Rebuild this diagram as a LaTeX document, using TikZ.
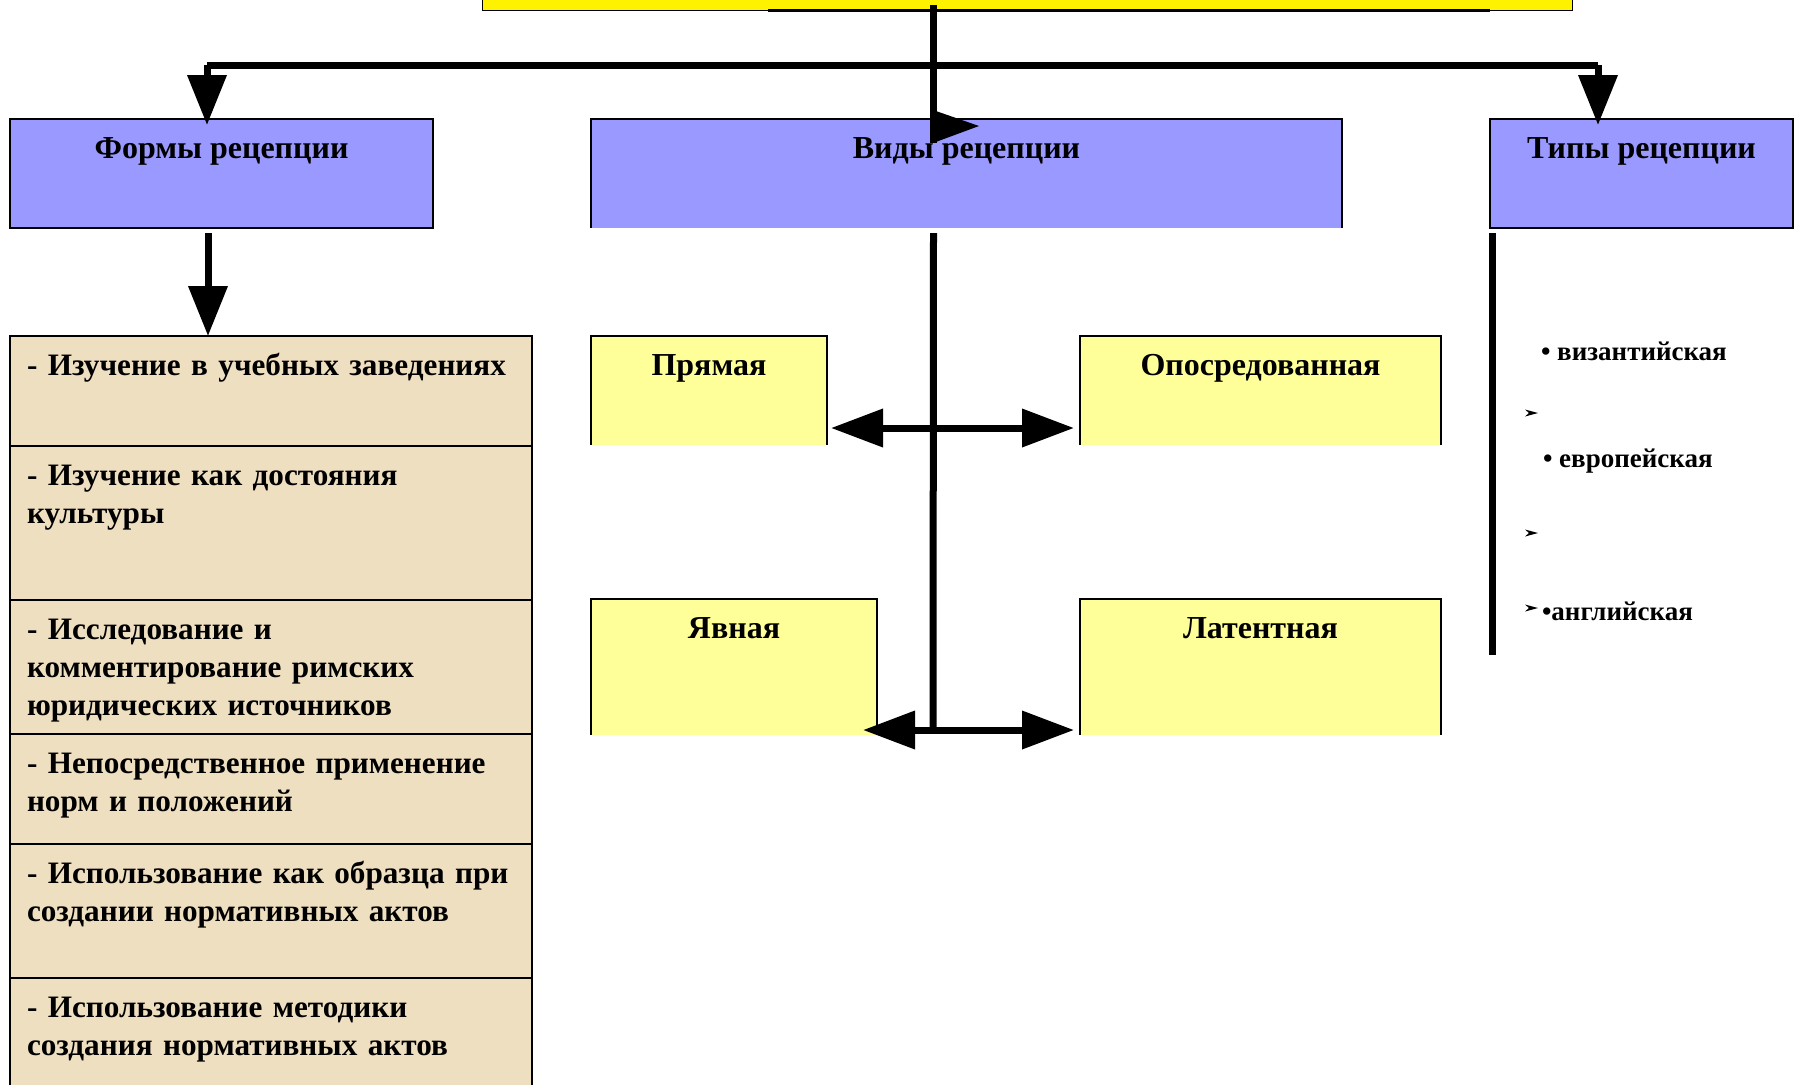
\documentclass[tikz,border=0pt]{standalone}
\usepackage{fontspec}
\setmainfont{Liberation Serif}
\usetikzlibrary{arrows.meta,positioning}
\definecolor{headblue}{HTML}{9999FF}
\definecolor{paleyellow}{HTML}{FFFF99}
\definecolor{beige}{HTML}{EEDFC1}

\begin{document}
\begin{tikzpicture}[x=0.5pt,y=-0.5pt,outer sep=0pt,
  thick line/.style={line width=3.5pt},
  big tip/.style={-{Triangle[length=25pt,width=19pt]}},
  both tips/.style={{Triangle[length=26pt,width=18.5pt]}-{Triangle[length=26pt,width=18.5pt]}},
  head node/.style={fill=headblue,anchor=north west,inner sep=0pt,
    text height=19.5pt,text depth=35pt,font=\fontsize{16}{19}\selectfont\bfseries},
  kind node/.style={fill=paleyellow,anchor=north west,inner sep=0pt,
    text height=19.5pt,font=\fontsize{16}{19}\selectfont\bfseries},
  list node/.style={draw,line width=1pt,fill=beige,anchor=north west,inner xsep=8.5pt,inner ysep=0pt,
    text width=244pt,align=left,text height=19.5pt,font=\fontsize{15.6}{19}\selectfont\bfseries},
  type node/.style={anchor=base west,inner sep=0pt,font=\fontsize{13.5}{16}\selectfont\bfseries}]

\useasboundingbox (0,0) rectangle (1800,1084);
\clip (0,0) rectangle (1800,1084);

\node[fill=yellow,draw,line width=0.5pt,anchor=south west,minimum width=545pt,minimum height=40pt] (recep) at (482,10) {};
\draw[line width=1.5pt] (768,10) -- (1490,10);

\node[head node,draw,line width=1.2pt,minimum width=211.5pt] (formy) at (10,119) {Формы рецепции};
\node[head node,minimum width=375.5pt,right=79pt of formy] (vidy) {Виды рецепции};
\node[head node,draw,line width=1.2pt,minimum width=151.5pt,right=74pt of vidy] (tipy) {Типы рецепции};
\draw[line width=1.2pt] (vidy.south west) |- (vidy.north east) -- (vidy.south east);

\coordinate (busL) at (207,65);
\coordinate (busR) at (1598,65);
\coordinate (hub) at (933,65);
\draw[thick line] (busL) -- (busR);
\draw[thick line,big tip,shorten >=-3pt] (busL) -- (busL |- formy.north);
\draw[thick line,big tip,shorten >=-3pt] (busR) -- (busR |- tipy.north);
\draw[thick line,shorten <=-2.5pt] (hub |- recep.south) -- (933,143);
\fill (933,110) -- (979,126) -- (933,143) -- cycle;

\node[list node,text depth=35.5pt] (f1) at (10,336) {- Изучение в учебных заведениях};
\node[list node,text depth=57.5pt,below=0pt of f1] (f2) {- Изучение как достояния\\культуры};
\node[list node,text depth=47.5pt,below=0pt of f2] (f3) {- Исследование и\\комментирование римских\\юридических источников};
\node[list node,text depth=35.5pt,below=0pt of f3] (f4) {- Непосредственное применение\\норм и положений};
\node[list node,text depth=47.5pt,below=0pt of f4] (f5) {- Использование как образца при\\создании нормативных актов};
\node[list node,text depth=41.5pt,below=0pt of f5] (f6) {- Использование методики\\создания нормативных актов};

\draw[thick line,big tip] ([xshift=-6.75pt,yshift=-2.5pt]formy.south) coordinate (fdown) -- (fdown |- f1.north);

\node[kind node,minimum width=118pt,text depth=35pt] (pryam) at (591,336) {Прямая};
\node[kind node,minimum width=180.5pt,text depth=35pt,right=126.5pt of pryam] (oposr) {Опосредованная};
\node[kind node,minimum width=143pt,text depth=48.5pt,below=77pt of pryam.south west,anchor=north west] (yavn) {Явная};
\node[kind node,minimum width=180.5pt,text depth=48.5pt,below=77pt of oposr] (latent) {Латентная};
\foreach \n in {pryam,oposr,yavn,latent}
  \draw[line width=1pt] (\n.south west) |- (\n.north east) -- (\n.south east);

\coordinate (vjoin) at (933,730);
\draw[thick line] ([xshift=-16.5pt,yshift=-2.5pt]vidy.south) -- (vjoin);
\draw[thick line,both tips] ([xshift=2pt,yshift=8.5pt]pryam.south east) -- ([xshift=-3pt,yshift=8.5pt]oposr.south west);
\draw[thick line,both tips] ([xshift=-7pt,yshift=2.5pt]yavn.south east) -- ([xshift=-3pt,yshift=2.5pt]latent.south west);

\coordinate (tend) at (1492,655);
\draw[thick line] ([xshift=1pt,yshift=-2.5pt]tipy.south west) -- (tend);
\node[type node] (t1) at (1541,360) {• византийская};
\node[type node] (t2) at (1543,467) {• европейская};
\node[type node] (t3) at (1542,620) {•английская};
\foreach \y in {413,533,608}
  \fill (1525,\y-3.5) -- (1529,\y) -- (1525,\y+3.5) -- (1538,\y) -- cycle;

\end{tikzpicture}
\end{document}
